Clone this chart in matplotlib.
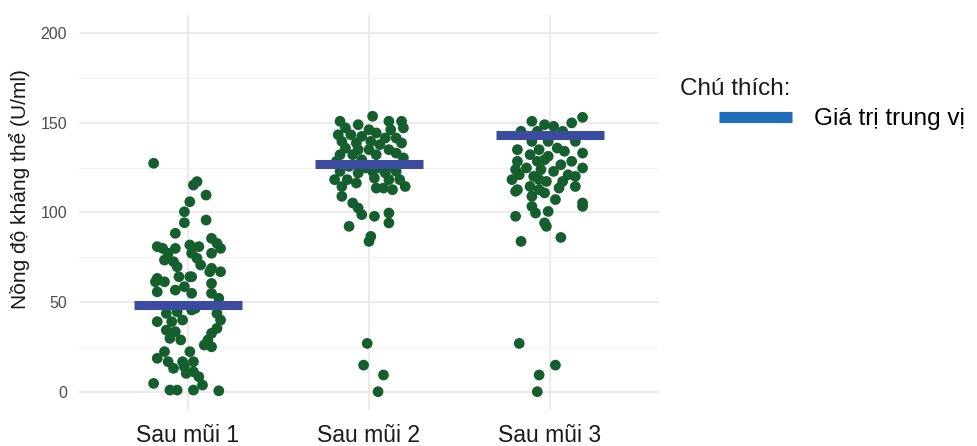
import numpy as np
import matplotlib.pyplot as plt
from matplotlib.lines import Line2D

plt.rcParams['font.family'] = ['Liberation Sans', 'DejaVu Sans']

categories = ['Sau mũi 1', 'Sau mũi 2', 'Sau mũi 3']
medians = [48.5, 127, 143]

# jitter offsets (in category units) and values for each group
g1_off = [-0.19, 0.05, 0.03, 0.10, 0.01, -0.02, 0.10, -0.02, -0.07, 0.13,
          -0.17, -0.14, -0.07, 0.01, 0.06, 0.16, 0.18, -0.11, 0.02, 0.13,
          -0.13, -0.08, 0.05, 0.07, -0.06, 0.13, 0.18, -0.17, 0.01,
          -0.18, -0.13, -0.05, 0.02, 0.12, 0.13, -0.17, -0.07, -0.02, 0.02,
          0.13, 0.17, -0.12, -0.06, 0.02, 0.04, 0.16, -0.17, -0.09, -0.03,
          0.18, -0.12, -0.07, 0.16, 0.13, -0.10, -0.04, 0.11, 0.09, 0.13,
          -0.13, 0.01, -0.17, -0.11, -0.03, 0.03, -0.08, -0.02, 0.03, -0.01,
          0.06, -0.19, 0.08, -0.10, -0.06, 0.03, 0.17]
g1_val = [127.4, 117.2, 115.3, 109.7, 106.0, 100.4, 95.8, 94.3, 88.4, 85.6,
          81.0, 80.0, 80.0, 81.9, 81.0, 82.8, 80.0, 77.3, 77.3, 77.3,
          73.5, 72.6, 74.5, 70.8, 69.8, 68.9, 67.0, 63.3, 64.2,
          61.4, 61.4, 64.2, 64.2, 67.0, 60.5, 55.8, 56.8, 58.7, 55.0,
          55.0, 52.2, 43.8, 44.7, 45.7, 46.6, 43.8, 39.2, 39.2, 40.1,
          40.1, 34.5, 33.6, 35.5, 32.7, 29.9, 29.0, 29.0, 26.2, 25.2,
          22.5, 22.5, 18.8, 16.9, 16.9, 16.9, 13.2, 14.1, 11.3, 10.4,
          8.5, 4.8, 3.9, 1.1, 1.1, 1.1, 0.7]

g2_off = [0.02, -0.16, -0.06, 0.11, 0.18, -0.13, 0.00, 0.04, 0.12, 0.19,
          -0.17, -0.10, -0.04, 0.09, 0.15, -0.15, -0.07, 0.01, 0.06, 0.18,
          -0.13, -0.06, 0.00, 0.11, -0.16, -0.09, 0.04, 0.15, -0.18, -0.04,
          0.19, -0.11, -0.02, 0.06, 0.12, -0.16, -0.06, 0.02, 0.09, 0.15,
          -0.19, -0.12, -0.07, 0.03, 0.11, 0.17, -0.15, 0.04, 0.08, 0.13,
          0.20, -0.15, -0.09, -0.06, 0.03, 0.11, -0.04, 0.11, -0.11, 0.00,
          0.01, -0.01, -0.03, 0.08, 0.05]
g2_val = [153.6, 150.8, 148.9, 150.8, 150.8, 147.1, 146.1, 144.3, 146.1, 147.1,
          143.3, 143.3, 142.4, 141.5, 141.5, 139.6, 138.7, 139.6, 137.8, 138.7,
          135.9, 135.0, 135.0, 135.0, 132.2, 132.2, 132.2, 133.1, 128.5, 129.4,
          130.4, 125.7, 124.8, 124.8, 125.7, 122.9, 122.0, 122.9, 122.0, 122.9,
          118.3, 118.3, 116.4, 119.2, 118.3, 118.3, 114.5, 113.6, 113.6, 112.7,
          114.5, 109.0, 105.3, 102.5, 97.9, 99.7, 98.8, 94.2, 92.3, 83.9,
          86.7, 27.1, 15.0, 9.5, 0.2]

g3_off = [0.18, 0.12, -0.10, -0.03, 0.02, -0.16, -0.07, 0.07, -0.10, -0.01,
          0.14, -0.18, -0.06, 0.04, 0.08, 0.18, -0.11, -0.01, -0.18, -0.07,
          -0.03, 0.12, 0.06, -0.19, -0.13, -0.05, 0.02, 0.18, -0.17, -0.09,
          0.10, 0.14, -0.21, -0.06, -0.02, 0.07, -0.11, 0.14, -0.18, -0.06,
          0.05, -0.19, -0.10, -0.03, 0.03, 0.18, 0.18, -0.10, -0.08, -0.01,
          -0.19, -0.03, -0.02, -0.16, 0.06, -0.17, 0.03, -0.06, -0.07]
g3_val = [153.0, 149.9, 150.8, 148.9, 148.0, 145.2, 145.2, 145.2, 139.6, 139.6,
          139.6, 135.0, 135.0, 135.9, 134.1, 133.1, 132.2, 131.3, 128.5, 128.5,
          129.4, 128.5, 126.6, 123.9, 124.8, 123.9, 122.9, 124.8, 121.0, 120.1,
          121.0, 120.1, 118.3, 118.3, 117.3, 117.3, 114.5, 114.5, 112.7, 112.7,
          113.6, 111.8, 109.0, 110.9, 107.2, 105.3, 103.4, 103.4, 99.7, 100.6,
          97.9, 94.2, 92.3, 83.9, 86.1, 27.1, 15.0, 9.5, 0.2]

point_color = '#155f2f'
bar_color = '#3a4ba0'
legend_color = '#1f6dbb'

fig = plt.figure(figsize=(9.78, 4.46), dpi=100)
ax = fig.add_axes([0.0812, 0.0807, 0.5922, 0.8857])

groups = [(g1_off, g1_val), (g2_off, g2_val), (g3_off, g3_val)]
for i, (off, val) in enumerate(groups):
    x = i + 1 + np.array(off)
    ax.scatter(x, val, s=60, color=point_color, edgecolors='none', zorder=3)

for i, m in enumerate(medians):
    ax.plot([i + 1 - 0.3, i + 1 + 0.3], [m, m], color=bar_color, lw=6.5,
            solid_capstyle='butt', zorder=4)

ax.set_xlim(0.4, 3.6)
ax.set_ylim(-10, 210)
ax.set_xticks([1, 2, 3])
ax.set_xticklabels(categories, fontsize=16.5, color='#1a1a1a')
ax.set_yticks([0, 50, 100, 150, 200])
ax.set_yticks([25, 75, 125, 175], minor=True)
ax.tick_params(axis='y', which='major', labelsize=11.5, labelcolor='#4d4d4d', length=0, pad=9)
ax.tick_params(axis='y', which='minor', length=0)
ax.tick_params(axis='x', length=0, pad=10)
ax.grid(True, which='major', color='#e6e6e6', lw=1.1)
ax.grid(True, which='minor', axis='y', color='#f2f2f2', lw=0.8)
ax.set_axisbelow(True)
for s in ax.spines.values():
    s.set_visible(False)
ax.set_ylabel('Nồng độ kháng thể (U/ml)', fontsize=15, color='#1a1a1a')
ax.yaxis.set_label_coords(-0.085, 0.56)

handle = Line2D([0], [0], color=legend_color, lw=8, solid_capstyle='butt')
fig.text(0.695, 0.80, 'Chú thích:', fontsize=17.5, color='#1a1a1a', va='center')
leg = fig.legend([handle], ['Giá trị trung vị'], loc='center left',
                 bbox_to_anchor=(0.713, 0.733), frameon=False, fontsize=17.5,
                 handlelength=3.0, handletextpad=0.9)

fig.savefig('out.png', dpi=100)
